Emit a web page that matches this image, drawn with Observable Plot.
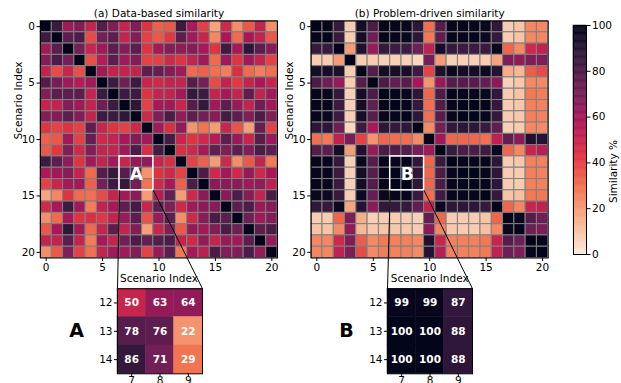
<!DOCTYPE html>
<html><head><meta charset="utf-8">
<script src="https://cdn.jsdelivr.net/npm/d3@7"></script>
<script src="https://cdn.jsdelivr.net/npm/@observablehq/plot@0.6"></script>
<style>
body{margin:0;background:#fff;}
#wrap{position:relative;width:621px;height:383px;overflow:hidden;background:#fff;}
#wrap svg{position:absolute;left:0;top:0;}
</style></head><body><div id="wrap"></div>
<script>
// ---------------- data ----------------
const scenarioCount = 21;
const tickValues = [0, 5, 10, 15, 20];
const colorbarTicks = [0, 20, 40, 60, 80, 100];
const zoomRows = [12, 13, 14];
const zoomCols = [7, 8, 9];
const titles = ["(a) Data-based similarity", "(b) Problem-driven similarity"];
const insetLetters = ["A", "B"];

// upper triangle, row r lists columns r+1..20 (diagonal = 100)
const dataBasedUpper = [
 [84,60,67,51,78,67,51,67,43,33,35,84,57,40,18,48,23,35,51,23],
 [76,80,38,70,76,51,67,40,35,42,76,60,50,25,58,31,58,51,35],
 [70,50,60,76,67,76,43,60,67,64,66,58,43,84,58,88,76,67],
 [37,55,76,60,67,40,40,48,43,51,60,31,60,43,60,51,40],
 [60,51,51,51,76,74,67,60,31,33,30,27,45,31,27,30],
 [84,72,84,50,48,51,51,78,70,38,51,42,51,58,51],
 [84,84,43,51,51,60,86,84,51,58,51,76,51,60],
 [88,40,58,60,50,78,86,60,76,62,51,72,60],
 [48,67,80,63,76,71,65,82,76,67,80,67],
 [60,45,64,22,29,20,50,36,19,74,40],
 [82,50,43,48,55,76,62,50,78,62],
 [45,48,58,75,67,76,67,80,76],
 [40,33,20,48,23,35,51,28],
 [80,48,60,48,63,48,58],
 [65,65,66,60,64,53],
 [66,80,67,51,80],
 [76,80,62,67],
 [72,60,67],
 [76,80],
 [63]
];
const problemDrivenUpper = [
 [99,85,8,95,80,99,99,99,88,30,78,99,99,99,98,87,8,10,25,25],
 [85,8,94,72,99,99,98,88,28,76,99,99,99,97,86,8,10,25,25],
 [20,92,62,86,84,84,72,52,95,86,84,84,85,98,32,24,48,52],
 [8,8,7,7,7,5,70,20,7,7,7,8,18,68,64,68,68],
 [78,95,94,94,84,40,92,98,95,95,97,90,16,13,34,38],
 [80,75,77,58,22,62,78,78,78,74,65,7,9,24,24],
 [99,99,88,32,80,99,99,99,98,87,8,10,28,27],
 [99,86,30,79,99,100,100,99,86,8,9,26,26],
 [88,30,78,99,100,100,99,86,8,9,26,26],
 [24,70,87,88,88,85,75,7,8,25,24],
 [60,32,32,32,30,52,75,65,92,90],
 [85,80,80,83,98,32,25,50,54],
 [99,99,99,88,8,9,26,26],
 [100,99,88,8,8,26,26],
 [99,88,8,8,26,26],
 [86,10,11,28,28],
 [32,25,50,52],
 [98,78,72],
 [72,68],
 [99]
];

// ---------------- helpers ----------------
function fullMatrix(upper) {
  const M = d3.range(scenarioCount).map(() => new Array(scenarioCount).fill(100));
  upper.forEach((row, r) => row.forEach((v, k) => { const c = r + 1 + k; M[r][c] = v; M[c][r] = v; }));
  return M;
}
const matrices = [fullMatrix(dataBasedUpper), fullMatrix(problemDrivenUpper)];

const rocketStops = ["#faebdd","#f6b48f","#f37651","#e13342","#ad1759","#701f57","#35193e","#03051a"];
const rocketR = d3.piecewise(d3.interpolateRgb, rocketStops);
const colorOpts = {type: "linear", domain: [0, 100], interpolate: rocketR};

const W = 621, H = 383;
const heatBoxes = [{left: 40, top: 20.5, w: 237, h: 237}, {left: 310.7, top: 20.5, w: 237, h: 237}];
const insetBoxes = [{left: 117, top: 288.3, w: 85, h: 85}, {left: 387, top: 288.3, w: 85, h: 85}];
const cbBox = {left: 573, top: 25, w: 13, h: 229};
const FONT = "DejaVu Sans, sans-serif";

function panel(box, opts) {
  return Plot.plot({
    width: W, height: H,
    marginLeft: box.left, marginTop: box.top,
    marginRight: W - box.left - box.w, marginBottom: H - box.top - box.h,
    style: {background: "transparent", fontFamily: FONT, fontSize: "10.5px", overflow: "visible"},
    ...opts
  });
}

function heatmap(i) {
  const M = matrices[i], box = heatBoxes[i], ib = insetBoxes[i];
  const cells = [];
  for (let r = 0; r < scenarioCount; r++) for (let c = 0; c < scenarioCount; c++) cells.push({r, c, v: M[r][c]});
  const cell = box.w / scenarioCount;
  const toX = px => -0.5 + (px - box.left) / cell;
  const toY = py => -0.5 + (py - box.top) / cell;
  const zx1 = d3.min(zoomCols) - 0.5, zx2 = d3.max(zoomCols) + 0.5;
  const zy1 = d3.min(zoomRows) - 0.5, zy2 = d3.max(zoomRows) + 0.5;
  const links = [
    {x1: zx1, y1: zy2, x2: toX(ib.left), y2: toY(ib.top)},
    {x1: zx2, y1: zy2, x2: toX(ib.left + ib.w), y2: toY(ib.top)}
  ];
  return panel(box, {
    x: {domain: [-0.5, scenarioCount - 0.5]},
    y: {domain: [-0.5, scenarioCount - 0.5], reverse: true},
    color: colorOpts,
    marks: [
      Plot.rect(cells, {x1: d => d.c - 0.5, x2: d => d.c + 0.5, y1: d => d.r - 0.5, y2: d => d.r + 0.5,
        fill: "v", stroke: "#808080", strokeWidth: 1}),
      Plot.frame({stroke: "black", strokeWidth: 1}),
      Plot.rect([{}], {x1: zx1, x2: zx2, y1: zy1, y2: zy2, fill: "none", stroke: "white", strokeWidth: 1.5}),
      Plot.text([insetLetters[i]], {x: d3.mean(zoomCols), y: d3.mean(zoomRows), text: d => d,
        fill: "white", fontWeight: "bold", fontSize: 17, dy: 1}),
      Plot.link(links, {x1: "x1", y1: "y1", x2: "x2", y2: "y2", stroke: "black", strokeWidth: 1}),
      Plot.axisX({ticks: tickValues, tickSize: 3.5, tickPadding: 2, label: null, anchor: "bottom"}),
      Plot.axisY({ticks: tickValues, tickSize: 3.5, tickPadding: 2, label: null, anchor: "left"}),
      Plot.text([titles[i]], {text: d => d, frameAnchor: "top", lineAnchor: "middle", dy: -7, fontSize: 10.5}),
      Plot.text(["Scenario Index"], {text: d => d, frameAnchor: "bottom", lineAnchor: "middle", dy: 20.5, fontSize: 10.5}),
      Plot.text(["Scenario Index"], {text: d => d, frameAnchor: "left", rotate: -90, dx: -22, fontSize: 10.5})
    ]
  });
}

function insetPlot(i) {
  const M = matrices[i], box = insetBoxes[i];
  const cells = zoomRows.flatMap(r => zoomCols.map(c => ({r, c, v: M[r][c]})));
  return panel(box, {
    x: {domain: [d3.min(zoomCols) - 0.5, d3.max(zoomCols) + 0.5]},
    y: {domain: [d3.min(zoomRows) - 0.5, d3.max(zoomRows) + 0.5], reverse: true},
    color: colorOpts,
    marks: [
      Plot.rect(cells, {x1: d => d.c - 0.5, x2: d => d.c + 0.5, y1: d => d.r - 0.5, y2: d => d.r + 0.5,
        fill: "v", stroke: "v", strokeWidth: 0.5}),
      Plot.text(cells, {x: "c", y: "r", text: d => String(d.v), fill: "white", fontWeight: "bold", fontSize: 10.5}),
      Plot.frame({stroke: "black", strokeWidth: 1}),
      Plot.axisX({ticks: zoomCols, tickFormat: "d", tickSize: 3, tickPadding: 0, label: null, anchor: "bottom"}),
      Plot.axisY({ticks: zoomRows, tickFormat: "d", tickSize: 3, tickPadding: 2, label: null, anchor: "left"}),
      Plot.text([insetLetters[i]], {text: d => d, frameAnchor: "left", textAnchor: "middle", dx: -41, fontSize: 19, fontWeight: "bold"})
    ]
  });
}

function colorbar() {
  const steps = d3.range(0, 100, 0.5);
  return panel(cbBox, {
    x: {domain: [0, 1], axis: null},
    y: {domain: [0, 100]},
    color: colorOpts,
    marks: [
      Plot.rect(steps, {x1: 0, x2: 1, y1: d => d, y2: d => d + 0.5, fill: d => d + 0.25, stroke: d => d + 0.25, strokeWidth: 0.5}),
      Plot.frame({stroke: "black", strokeWidth: 1}),
      Plot.axisY({anchor: "right", ticks: colorbarTicks, tickSize: 3.5, tickPadding: 2, label: null}),
      Plot.text(["Similarity %"], {text: d => d, frameAnchor: "right", rotate: -90, dx: 27, fontSize: 10.5})
    ]
  });
}

const wrap = document.getElementById("wrap");
[heatmap(0), heatmap(1), insetPlot(0), insetPlot(1), colorbar()].forEach(svg => wrap.appendChild(svg));
</script>
</body></html>
